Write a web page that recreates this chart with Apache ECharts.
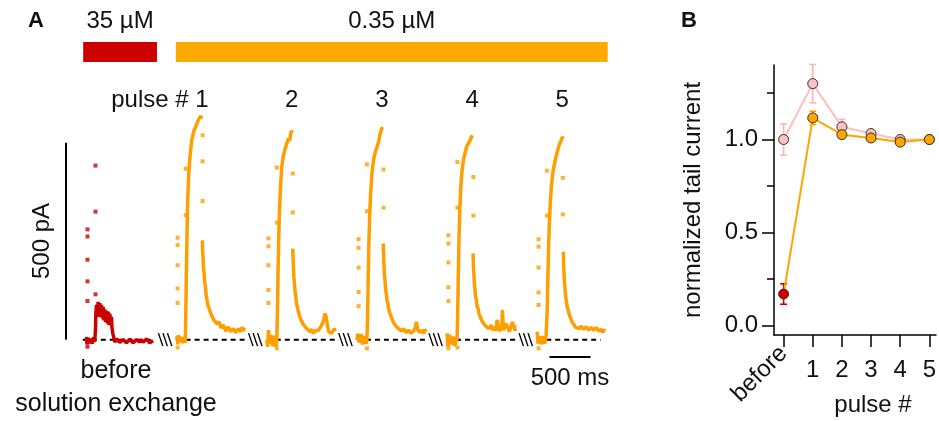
<!DOCTYPE html>
<html>
<head>
<meta charset="utf-8">
<script src="https://cdn.jsdelivr.net/npm/echarts@6/dist/echarts.min.js"></script>
<style>
  html, body { margin: 0; padding: 0; background: #fff; }
  #chart { width: 939px; height: 421px; }
</style>
</head>
<body>
<div id="chart"></div>
<script>
// ---------- Panel A: current sweeps ----------
// start of each sweep on the concatenated time axis (ms)
const sweepStarts = [250, 1350, 2450, 3550, 4650, 5750];
const sweepNames = ['before', '1', '2', '3', '4', '5'];
// dashed zero-current reference under each sweep, ms relative to sweep start
const baselineSpans = [[-45, 830], [0, 880], [0, 880], [0, 880], [0, 880], [0, 775]];

// drug application bars (ms on the time axis)
const applicationSpans = [[210, 1110], [1340, 6610]];
const applicationLabels = ['35 µM', '0.35 µM'];

// recorded current, [ms from sweep start, pA]
const traceBefore = [[0,7],[6,-12],[12,-14],[20,4],[28,3],[36,-9],[45,-5],[53,2],[61,0],[69,-10],[77,-8],[86,6],[94,5],[100,-6],[106,-1],[110,24],[114,66],[122,88],[132,58],[142,96],[152,62],[163,93],[173,58],[183,88],[193,54],[203,83],[213,49],[224,77],[234,45],[244,73],[254,41],[264,71],[275,37],[285,66],[295,37],[305,58],[310,33],[313,33],[321,16],[330,8],[338,3],[346,-6],[354,-3],[370,2],[386,-1],[406,-7],[427,-5],[447,0],[468,-3],[488,-8],[508,-5],[528,1],[549,-3],[570,-8],[590,-5],[610,0],[630,-1],[650,-6],[671,0],[691,-7],[712,-3],[732,2],[752,-1],[772,-8],[793,-5],[813,-3]];

const pulse1On = [[0,-1],[8,9],[14,-12],[20,11],[28,-6],[35,-10],[41,8],[50,-3],[61,7],[70,-9],[81,-5],[90,6],[102,3],[106,-8],[110,41],[118,160],[126,261],[134,346],[146,413],[159,456],[175,489],[185,508],[195,515],[210,530],[224,536],[240,545],[256,549],[270,560],[285,557],[295,568],[305,561]];
const pulse1Tail = [[313,252],[317,225],[321,214],[327,185],[334,172],[342,145],[350,138],[360,113],[370,109],[382,88],[395,87],[411,70],[427,69],[447,52],[468,55],[492,40],[517,45],[543,30],[569,37],[600,22],[630,32],[660,20],[691,28],[722,18],[752,28],[780,20],[800,32],[815,22],[826,30]];

const pulse2On = [[0,-1],[10,-18],[20,24],[30,-10],[41,-14],[50,12],[61,16],[70,-16],[81,-10],[92,10],[102,7],[112,-18],[122,-6],[130,75],[138,176],[146,261],[155,329],[167,388],[183,439],[203,468],[224,485],[244,498],[264,511],[280,505],[289,519],[300,530],[313,525]];
const pulse2Tail = [[317,231],[321,205],[325,185],[331,158],[338,143],[346,120],[354,109],[364,90],[374,83],[386,70],[399,66],[413,52],[427,54],[447,38],[468,41],[488,28],[508,33],[528,20],[549,26],[570,16],[590,22],[610,18],[630,24],[650,30],[671,37],[685,45],[700,54],[706,66],[712,71],[722,60],[732,58],[738,40],[744,33],[755,20],[765,24],[790,16],[813,20],[825,28],[834,22]];

const pulse3On = [[0,-1],[10,15],[20,20],[30,-8],[41,-10],[50,14],[61,11],[70,-12],[81,-14],[92,9],[102,7],[112,-10],[122,-1],[130,58],[138,159],[146,244],[155,312],[167,371],[183,422],[203,456],[224,477],[244,489],[264,502],[280,520],[289,519],[300,535],[313,540]];
const pulse3Tail = [[321,244],[325,215],[329,193],[335,165],[342,151],[350,128],[358,117],[368,98],[378,92],[390,75],[403,71],[420,56],[435,54],[455,40],[476,41],[496,30],[517,33],[543,22],[569,28],[600,18],[630,24],[660,16],[691,22],[712,30],[725,45],[732,41],[742,25],[752,28],[772,18],[793,24],[815,16],[830,26],[842,20]];

const pulse4On = [[0,16],[10,-18],[20,-10],[30,12],[41,7],[50,-12],[61,-14],[70,8],[81,3],[92,-16],[102,-10],[112,6],[122,-1],[130,75],[138,176],[146,261],[155,329],[167,388],[183,430],[203,460],[224,477],[238,490],[252,494],[266,500],[281,506],[297,515],[313,519]];
const pulse4Tail = [[317,219],[321,190],[325,176],[331,150],[338,134],[346,112],[354,105],[366,85],[378,79],[392,64],[407,62],[425,48],[443,50],[463,36],[484,41],[510,28],[537,37],[557,24],[578,33],[598,22],[610,50],[618,41],[638,22],[659,28],[670,40],[675,75],[679,62],[685,30],[691,24],[715,40],[740,33],[760,20],[781,24],[800,45],[810,30],[822,37],[828,22],[834,28]];

const pulse5On = [[0,20],[10,-10],[20,-1],[30,8],[41,0],[50,-12],[61,-1],[70,9],[81,0],[92,-10],[102,-1],[108,10],[114,7],[122,75],[130,159],[138,227],[146,286],[159,346],[175,396],[195,430],[220,456],[244,477],[268,494],[280,500],[293,506],[305,515],[317,510]];
const pulse5Tail = [[319,223],[322,195],[325,176],[331,150],[338,134],[346,112],[354,100],[366,82],[378,75],[392,62],[407,58],[425,45],[443,45],[465,32],[488,37],[512,28],[537,34],[567,26],[598,33],[628,24],[659,31],[690,24],[720,31],[750,22],[781,26],[800,18],[815,26],[822,22]];

// isolated samples (transients) that sit apart from the trace
const strayBefore = [[12,280],[12,262],[12,203],[12,148],[12,98],[12,-18],[110,442],[110,325],[110,115]];
const stray1 = [[12,259],[12,240],[12,189],[12,130],[12,93],[12,-20],[110,434],[110,316],[317,519],[317,453],[317,352]];
const stray2 = [[20,257],[20,237],[20,189],[20,126],[20,93],[122,437],[122,297],[122,-22],[317,422],[317,323]];
const stray3 = [[20,255],[20,233],[20,183],[20,121],[20,85],[122,445],[122,326],[122,-22],[325,432],[325,335]];
const stray4 = [[16,265],[16,244],[16,196],[16,133],[16,98],[16,-22],[126,451],[126,335],[126,-20],[321,413],[321,315]];
const stray5 = [[16,255],[16,236],[16,183],[16,120],[16,88],[16,-22],[118,429],[118,315],[313,411],[313,318]];

// scale bars
const scaleBarPA = 500;
const scaleBarMS = 500;

// ---------- Panel B: normalized tail current ----------
const pulseIndex = [0, 1, 2, 3, 4, 5];          // 0 = before solution exchange
const pulseTicks = ['before', '1', '2', '3', '4', '5'];
const controlMean = [1.00, 1.30, 1.068, 1.032, 1.00, 1.00];
const controlErr  = [0.084, 0.103, 0.04, 0.02, 0.01, 0];
const washMean    = [0.17, 1.116, 1.026, 1.008, 0.986, 1.00];
const washErr     = [0.055, 0.036, 0.015, 0.01, 0.01, 0];

// ---------- styling ----------
const FONT = '"Liberation Sans", Arial, Helvetica, sans-serif';
const RED = '#CC0000';
const ORANGE_TRACE = '#FF9E00';
const ORANGE_BAR = '#FFAA00';
const ORANGE = '#FFA500';
const PINK = '#FFC0C0';
const PINK_LINE = '#FFBDBD';
const BREAK_OFFSET = -140;   // ms before a sweep where the axis break is drawn
const LABEL_OFFSET = 305;    // ms after sweep start where the pulse number sits

const sweepsOn = [traceBefore, pulse1On, pulse2On, pulse3On, pulse4On, pulse5On];
const sweepsTail = [[], pulse1Tail, pulse2Tail, pulse3Tail, pulse4Tail, pulse5Tail];
const sweepsStray = [strayBefore, stray1, stray2, stray3, stray4, stray5];

const shift = (arr, t0) => arr.map(([t, v]) => [t + t0, v]);

const series = [];

// dashed zero lines, axis breaks and pulse numbers
series.push({
  type: 'custom', xAxisIndex: 0, yAxisIndex: 0, clip: false, silent: true, z: 1,
  data: sweepStarts.map((s, i) => [s, i]),
  renderItem(params, api) {
    const s = api.value(0), i = api.value(1);
    const span = baselineSpans[i];
    const a = api.coord([s + span[0], 0]);
    const b = api.coord([s + span[1], 0]);
    const children = [{
      type: 'line',
      shape: { x1: a[0], y1: a[1], x2: b[0], y2: b[1] },
      style: { stroke: '#000', lineWidth: 2, lineDash: [5, 4] }
    }];
    if (i > 0) {
      const m = api.coord([s + BREAK_OFFSET, 0]);
      for (let k = -1; k <= 1; k++) {
        children.push({
          type: 'line',
          shape: { x1: m[0] + k * 4.5 - 2.2, y1: m[1] - 6.5, x2: m[0] + k * 4.5 + 2.2, y2: m[1] + 6.5 },
          style: { stroke: '#000', lineWidth: 1.4 }
        });
      }
      const lx = api.coord([s + LABEL_OFFSET, 0])[0];
      children.push({
        type: 'text', x: i === 1 ? lx + 7 : lx, y: params.coordSys.y + 36,
        style: {
          text: i === 1 ? 'pulse # ' + sweepNames[i] : sweepNames[i],
          fontSize: 24, fontFamily: FONT, fill: '#111',
          align: i === 1 ? 'right' : 'center', verticalAlign: 'middle'
        }
      });
    }
    return { type: 'group', children };
  }
});

// drug application bars with concentrations
series.push({
  type: 'custom', xAxisIndex: 0, yAxisIndex: 0, clip: false, silent: true, z: 1,
  data: applicationSpans.map((sp, i) => [sp[0], sp[1], i]),
  renderItem(params, api) {
    const i = api.value(2);
    const x1 = api.coord([api.value(0), 0])[0];
    const x2 = api.coord([api.value(1), 0])[0];
    const top = params.coordSys.y;
    return {
      type: 'group',
      children: [
        { type: 'rect', shape: { x: x1, y: top - 22, width: x2 - x1, height: 20 },
          style: { fill: i === 0 ? RED : ORANGE_BAR } },
        { type: 'text', x: (x1 + x2) / 2, y: top - 43,
          style: { text: applicationLabels[i], fontSize: 24, fontFamily: FONT, fill: '#111',
                   align: 'center', verticalAlign: 'middle' } }
      ]
    };
  }
});

// current traces
sweepStarts.forEach((s, i) => {
  const color = i === 0 ? RED : ORANGE_TRACE;
  [sweepsOn[i], sweepsTail[i]].forEach(seg => {
    if (!seg.length) return;
    series.push({
      type: 'line', xAxisIndex: 0, yAxisIndex: 0, z: 3, silent: true,
      data: shift(seg, s), showSymbol: false, symbol: 'none',
      lineStyle: { color, width: 3.5 }, animation: false
    });
  });
  series.push({
    type: 'scatter', xAxisIndex: 0, yAxisIndex: 0, z: 3, silent: true,
    data: shift(sweepsStray[i], s), symbol: 'rect', symbolSize: 4,
    itemStyle: { color }, animation: false
  });
});

// scale bars
series.push({
  type: 'line', xAxisIndex: 0, yAxisIndex: 0, z: 2, silent: true, clip: false,
  data: [[0, 0], [0, scaleBarPA]], showSymbol: false, symbol: 'none',
  lineStyle: { color: '#000', width: 2 }, animation: false
});
series.push({
  type: 'line', xAxisIndex: 0, yAxisIndex: 0, z: 2, silent: true, clip: false,
  data: [[5900, -44], [5900 + scaleBarMS, -44]], showSymbol: false, symbol: 'none',
  lineStyle: { color: '#000', width: 2 }, animation: false
});

// Panel B: error bars
function errorBars(mean, err, colorFn) {
  return {
    type: 'custom', xAxisIndex: 1, yAxisIndex: 1, z: 4, silent: true,
    data: pulseIndex.map((x, i) => [x, mean[i] - err[i], mean[i] + err[i], i]),
    renderItem(params, api) {
      const x = api.value(0);
      const p1 = api.coord([x, api.value(1)]);
      const p2 = api.coord([x, api.value(2)]);
      const style = { stroke: colorFn(api.value(3)), lineWidth: 1.6 };
      const w = 3.5;
      return {
        type: 'group',
        children: [
          { type: 'line', shape: { x1: p1[0], y1: p1[1], x2: p2[0], y2: p2[1] }, style },
          { type: 'line', shape: { x1: p1[0] - w, y1: p1[1], x2: p1[0] + w, y2: p1[1] }, style },
          { type: 'line', shape: { x1: p2[0] - w, y1: p2[1], x2: p2[0] + w, y2: p2[1] }, style }
        ]
      };
    }
  };
}
series.push(errorBars(controlMean, controlErr, () => '#FFB4B4'));
series.push({
  type: 'line', xAxisIndex: 1, yAxisIndex: 1, z: 5, silent: true,
  data: pulseIndex.map((x, i) => [x, controlMean[i]]),
  symbol: 'circle', symbolSize: 10, showSymbol: true,
  lineStyle: { color: PINK_LINE, width: 2 },
  itemStyle: { color: PINK, borderColor: '#333', borderWidth: 1 },
  animation: false
});
series.push(errorBars(washMean, washErr, i => (i === 0 ? RED : ORANGE)));
series.push({
  type: 'line', xAxisIndex: 1, yAxisIndex: 1, z: 6, silent: true,
  data: pulseIndex.map((x, i) => (i === 0
    ? { value: [x, washMean[i]], itemStyle: { color: RED } }
    : [x, washMean[i]])),
  symbol: 'circle', symbolSize: 10, showSymbol: true,
  lineStyle: { color: ORANGE, width: 2 },
  itemStyle: { color: ORANGE, borderColor: '#333', borderWidth: 1 },
  animation: false
});

const axisBlack = { color: '#000', width: 1.5 };
const labelStyle = { fontSize: 24, fontFamily: FONT, color: '#111' };

const option = {
  animation: false,
  backgroundColor: '#fff',
  grid: [
    { left: 49.6, right: 319, top: 64, height: 315 },
    { left: 774, right: 0, top: 65, height: 270 }
  ],
  xAxis: [
    { gridIndex: 0, type: 'value', min: -200, max: 6760, show: false },
    {
      gridIndex: 1, type: 'value', min: -0.33, max: 5.23, position: 'bottom',
      axisLine: { show: true, onZero: false, lineStyle: axisBlack },
      axisTick: { show: true, customValues: pulseIndex, length: 12, lineStyle: axisBlack },
      axisLabel: { customValues: pulseIndex.slice(1), formatter: v => pulseTicks[Math.round(v)],
                   margin: 23, ...labelStyle },
      splitLine: { show: false }
    },
    {
      gridIndex: 1, type: 'value', min: -0.33, max: 5.23, position: 'bottom',
      axisLine: { show: false, onZero: false }, axisTick: { show: false },
      axisLabel: { customValues: [0], formatter: v => pulseTicks[Math.round(v)],
                   rotate: 45, margin: 15, ...labelStyle },
      splitLine: { show: false }
    }
  ],
  yAxis: [
    { gridIndex: 0, type: 'value', min: -100, max: 700, show: false },
    {
      gridIndex: 1, type: 'value', min: -0.05, max: 1.4, position: 'left',
      name: 'normalized tail current', nameLocation: 'middle', nameGap: 69,
      nameTextStyle: { fontSize: 24, fontFamily: FONT, color: '#111' },
      axisLine: { show: true, onZero: false, lineStyle: axisBlack },
      axisTick: { show: true, customValues: [0, 0.5, 1], length: 12, lineStyle: axisBlack },
      axisLabel: { customValues: [0, 0.5, 1], formatter: v => v.toFixed(1), margin: 16, ...labelStyle },
      splitLine: { show: false }
    },
    {
      gridIndex: 1, type: 'value', min: -0.05, max: 1.4, position: 'left', offset: 0,
      axisLine: { show: false, onZero: false },
      axisTick: { show: true, customValues: [0.25, 0.75, 1.25], length: 7, lineStyle: axisBlack },
      axisLabel: { show: false },
      splitLine: { show: false }
    }
  ],
  graphic: [
    { type: 'text', x: 36, y: 21, style: { text: 'A', fontSize: 22, fontWeight: 'bold', fontFamily: FONT, fill: '#111', align: 'center', verticalAlign: 'middle' } },
    { type: 'text', x: 689, y: 21, style: { text: 'B', fontSize: 22, fontWeight: 'bold', fontFamily: FONT, fill: '#111', align: 'center', verticalAlign: 'middle' } },
    { type: 'text', x: 116, y: 371, style: { text: 'before', fontSize: 25, fontFamily: FONT, fill: '#111', align: 'center', verticalAlign: 'middle' } },
    { type: 'text', x: 116, y: 404, style: { text: 'solution exchange', fontSize: 25, fontFamily: FONT, fill: '#111', align: 'center', verticalAlign: 'middle' } },
    { type: 'text', x: 42, y: 241, rotation: Math.PI / 2, style: { text: '500 pA', fontSize: 24, fontFamily: FONT, fill: '#111', align: 'center', verticalAlign: 'middle' } },
    { type: 'text', x: 570, y: 378, style: { text: '500 ms', fontSize: 24, fontFamily: FONT, fill: '#111', align: 'center', verticalAlign: 'middle' } },
    { type: 'text', x: 873, y: 405, style: { text: 'pulse #', fontSize: 24, fontFamily: FONT, fill: '#111', align: 'center', verticalAlign: 'middle' } }
  ],
  series
};

const chart = echarts.init(document.getElementById('chart'), null, { renderer: 'canvas' });
chart.setOption(option);
</script>
</body>
</html>
